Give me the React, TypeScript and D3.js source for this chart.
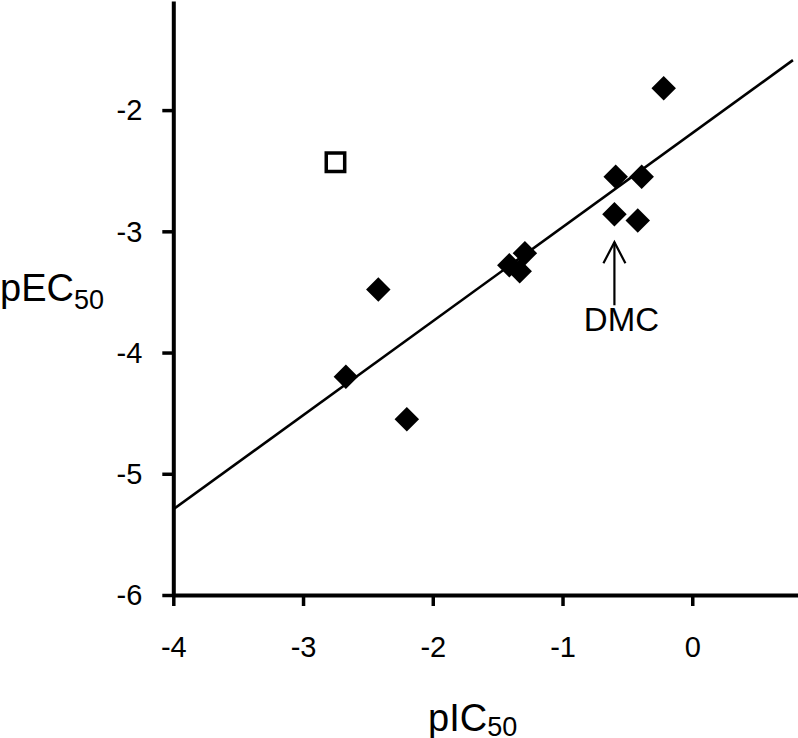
import React, { useEffect, useRef } from "react";
import * as d3 from "d3";

// ---- data ----
const pIC50 = [-0.22, -0.59, -0.39, -0.6, -0.42, -1.29, -1.41, -1.33, -2.42, -2.67, -2.2];
const pEC50 = [-1.82, -2.55, -2.55, -2.86, -2.91, -3.18, -3.28, -3.33, -3.48, -4.2, -4.55];
const outlierX = [-2.75];
const outlierY = [-2.43];
const fitX = [-4, 0.776];
const fitY = [-5.293, -1.588];
const xTicks = [-4, -3, -2, -1, 0];
const yTicks = [-6, -5, -4, -3, -2];
const annotX = -0.6;
const annotY = [-3.09, -3.61];
const annotLabel = "DMC";

const W = 798;
const H = 738;

export default function App() {
  const ref = useRef<SVGSVGElement>(null);

  useEffect(() => {
    const svg = d3.select(ref.current);
    svg.selectAll("*").remove();
    const font = "Arial, 'Liberation Sans', sans-serif";

    const x = d3.scaleLinear().domain([-4, 0.815]).range([173.3, 798]);
    const y = d3.scaleLinear().domain([-6, -1.1]).range([595, 1]);

    // axes
    const xAxis = d3.axisBottom(x).tickValues(xTicks).tickSize(11).tickSizeOuter(0).tickFormat(d3.format("d"));
    const yAxis = d3.axisLeft(y).tickValues(yTicks).tickSize(11).tickSizeOuter(0).tickFormat(d3.format("d"));

    const gx = svg.append("g").attr("transform", `translate(0,${y(-6)})`).call(xAxis);
    const gy = svg.append("g").attr("transform", `translate(${x(-4)},0)`).call(yAxis);

    [gx, gy].forEach((g) => {
      g.select(".domain").attr("stroke", "#000").attr("stroke-width", 4);
      g.selectAll(".tick line").attr("stroke", "#000").attr("stroke-width", 3.5);
      g.selectAll(".tick text")
        .attr("font-family", font)
        .attr("font-size", 29)
        .attr("fill", "#000")
        .text((d: any) => (d < 0 ? "-" + Math.abs(d) : String(d)));
    });
    gx.selectAll(".tick text").attr("dy", null).attr("y", 62);
    gy.selectAll(".tick text").attr("x", -31).attr("dy", "0.34em");

    // regression line
    const lineData = fitX.map((v, i) => [v, fitY[i]] as [number, number]);
    svg
      .append("path")
      .attr("d", d3.line().x((d) => x(d[0])).y((d) => y(d[1]))(lineData) as string)
      .attr("stroke", "#000")
      .attr("stroke-width", 2.6)
      .attr("fill", "none");

    // diamonds
    const diamond = d3.symbol().type(d3.symbolSquare).size(300)();
    svg
      .append("g")
      .selectAll("path")
      .data(pIC50.map((v, i) => [v, pEC50[i]]))
      .join("path")
      .attr("d", diamond as string)
      .attr("transform", (d) => `translate(${x(d[0])},${y(d[1])}) rotate(45)`)
      .attr("fill", "#000");

    // open square
    const sq = d3.symbol().type(d3.symbolSquare).size(340)();
    svg
      .append("g")
      .selectAll("path")
      .data(outlierX.map((v, i) => [v, outlierY[i]]))
      .join("path")
      .attr("d", sq as string)
      .attr("transform", (d) => `translate(${x(d[0])},${y(d[1])})`)
      .attr("fill", "#fff")
      .attr("stroke", "#000")
      .attr("stroke-width", 3.5);

    // annotation arrow
    const ax = x(annotX);
    const ty = y(annotY[0]);
    const by = y(annotY[1]);
    svg.append("line").attr("x1", ax).attr("x2", ax).attr("y1", ty).attr("y2", by).attr("stroke", "#000").attr("stroke-width", 2.2);
    svg
      .append("path")
      .attr("d", `M${ax - 11},${ty + 21}L${ax},${ty}L${ax + 11},${ty + 21}`)
      .attr("stroke", "#000")
      .attr("stroke-width", 2.2)
      .attr("fill", "none");
    svg
      .append("text")
      .attr("x", ax + 7)
      .attr("y", by + 26)
      .attr("text-anchor", "middle")
      .attr("font-family", font)
      .attr("font-size", 33)
      .text(annotLabel);

    // axis titles
    const xt = svg.append("text").attr("x", 428).attr("y", 731).attr("font-family", font).attr("font-size", 38);
    xt.append("tspan").text("pIC");
    xt.append("tspan").attr("font-size", 27).attr("dy", 5).text("50");

    const yt = svg.append("text").attr("x", 0).attr("y", 301).attr("font-family", font).attr("font-size", 38);
    yt.append("tspan").text("pEC");
    yt.append("tspan").attr("font-size", 27).attr("dy", 8).text("50");
  }, []);

  return (
    <svg
      ref={ref}
      width={W}
      height={H}
      style={{ position: "absolute", left: 0, top: 0, background: "#fff" }}
    />
  );
}
